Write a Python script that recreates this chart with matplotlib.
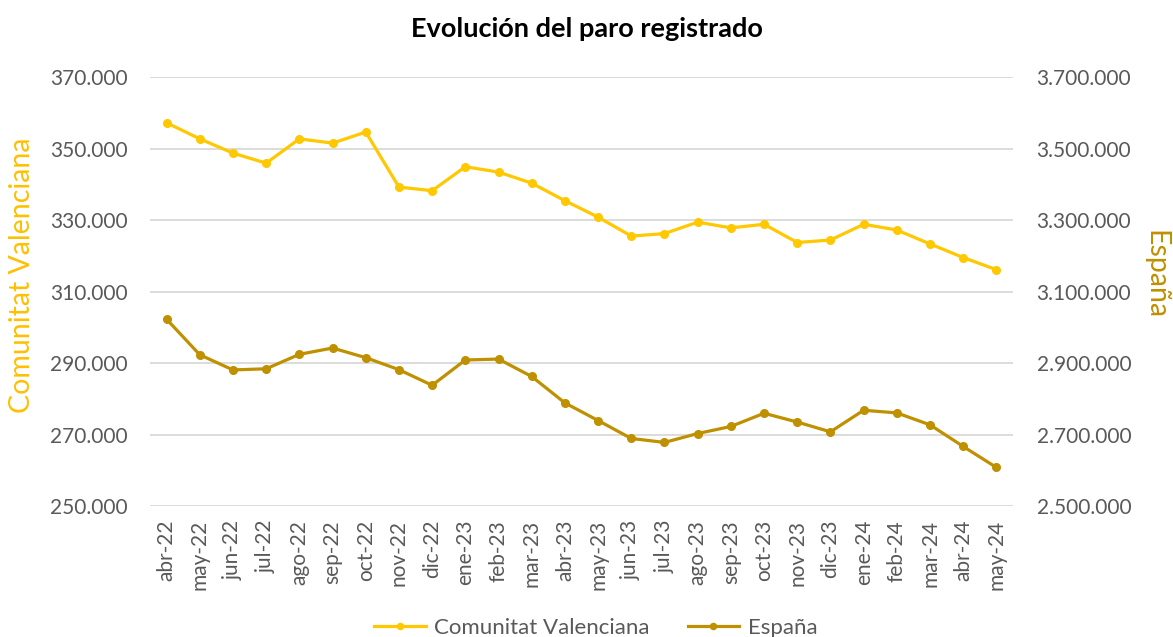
import matplotlib
matplotlib.use("Agg")
import matplotlib.pyplot as plt
from matplotlib.ticker import FuncFormatter, FixedLocator

months = ["abr-22", "may-22", "jun-22", "jul-22", "ago-22", "sep-22", "oct-22",
          "nov-22", "dic-22", "ene-23", "feb-23", "mar-23", "abr-23", "may-23",
          "jun-23", "jul-23", "ago-23", "sep-23", "oct-23", "nov-23", "dic-23",
          "ene-24", "feb-24", "mar-24", "abr-24", "may-24"]

cv_values = [357200, 352700, 348700, 345900, 352700, 351500, 354600, 339200,
             338200, 344900, 343400, 340300, 335400, 330800, 325500, 326200,
             329400, 327800, 328800, 323700, 324400, 328800, 327200, 323300,
             319500, 316100]

es_values = [3022503, 2922991, 2880582, 2883812, 2924240, 2941919, 2914892,
             2881380, 2837653, 2908397, 2911015, 2862260, 2788370, 2739110,
             2688842, 2677874, 2702700, 2722468, 2759404, 2734831, 2707456,
             2767860, 2760408, 2727003, 2666500, 2607850]

left_ticks = [250000, 270000, 290000, 310000, 330000, 350000, 370000]
right_ticks = [2500000, 2700000, 2900000, 3100000, 3300000, 3500000, 3700000]

title = "Evolución del paro registrado"
cv_name = "Comunitat Valenciana"
es_name = "España"

cv_color = "#FFC800"
es_color = "#BF9000"
txt_color = "#595959"
grid_color = "#D9D9D9"

plt.rcParams['font.family'] = ['Lato', 'DejaVu Sans']

W, H = 1173, 637
fig = plt.figure(figsize=(W / 100, H / 100), dpi=100)
ax = fig.add_axes([150 / W, 1 - 506 / H, (1013 - 150) / W, (506 - 77) / H])
ax2 = ax.twinx()

x = list(range(len(months)))

def fmt(v, pos=None):
    return f"{int(round(v)):,}".replace(",", ".")

ax.set_ylim(left_ticks[0], left_ticks[-1])
ax2.set_ylim(right_ticks[0], right_ticks[-1])
ax.set_xlim(-0.5, len(months) - 0.5)

ax.yaxis.set_major_locator(FixedLocator(left_ticks))
ax2.yaxis.set_major_locator(FixedLocator(right_ticks))
ax.yaxis.set_major_formatter(FuncFormatter(fmt))
ax2.yaxis.set_major_formatter(FuncFormatter(fmt))

ax.grid(axis='y', color=grid_color, linewidth=1.3)
ax.set_axisbelow(True)
for a in (ax, ax2):
    for s in a.spines.values():
        s.set_visible(False)

ax.set_xticks(x)
ax.set_xticklabels(months, rotation=90, fontsize=15, color=txt_color)
ax.tick_params(axis='x', length=0, pad=10)
ax.tick_params(axis='y', length=0, pad=16, labelsize=15, labelcolor=txt_color)
ax2.tick_params(axis='y', length=0, pad=17, labelsize=15, labelcolor=txt_color)

l1, = ax.plot(x, cv_values, color=cv_color, linewidth=2.3, marker='o',
              markersize=5.5, label=cv_name, zorder=3)
l2, = ax2.plot(x, es_values, color=es_color, linewidth=2.3, marker='o',
               markersize=5.5, label=es_name, zorder=3)

fig.text(0.5, 1 - 29 / H, title, ha='center', va='center', fontsize=19.5,
         fontweight='bold', color='black')

fig.text(22 / W, 1 - 275 / H, cv_name, rotation=90, ha='center', va='center',
         fontsize=20.5, color="#FFC000")
fig.text(1155 / W, 1 - 275 / H, es_name, rotation=270, ha='center', va='center',
         fontsize=20.5, color=es_color)

leg = fig.legend(handles=[l1, l2], loc='center', bbox_to_anchor=(0.508, 1 - 628 / H),
                 ncol=2, frameon=False, fontsize=16, handlelength=2.3,
                 columnspacing=1.7, handletextpad=0.4, markerscale=0.8)
for t in leg.get_texts():
    t.set_color(txt_color)

fig.savefig("out.png", dpi=100, facecolor='white')
